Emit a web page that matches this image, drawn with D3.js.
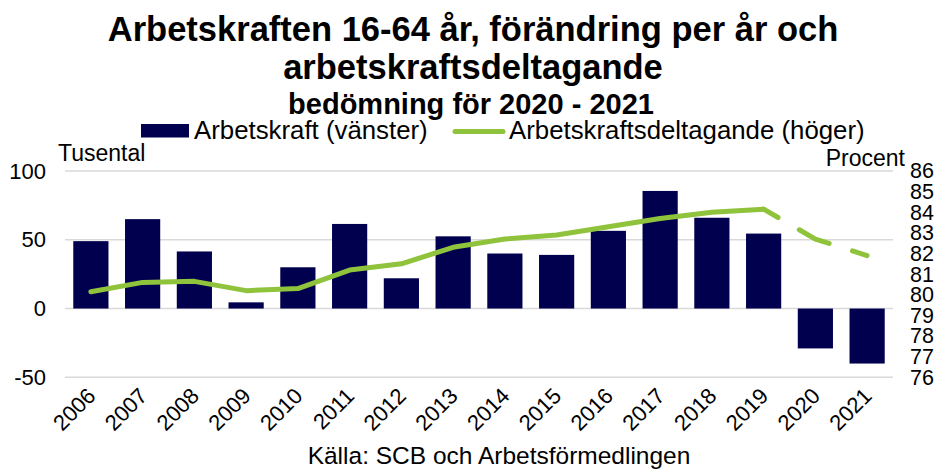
<!DOCTYPE html>
<html>
<head>
<meta charset="utf-8">
<script src="https://cdn.jsdelivr.net/npm/d3@7"></script>
<style>
  html, body { margin: 0; padding: 0; background: #fff; }
  svg { display: block; font-family: "Liberation Sans", Arial, sans-serif; }
</style>
</head>
<body>
<svg id="chart" width="940" height="469"></svg>
<script>
// ---- Data ----
const years = ["2006","2007","2008","2009","2010","2011","2012","2013","2014","2015","2016","2017","2018","2019","2020","2021"];
const laborForce = [49, 65, 41.5, 4.5, 30, 61.5, 22, 52.5, 40, 39, 56.5, 85.5, 66, 54.5, -29, -40];
const participation = [80.15, 80.6, 80.65, 80.2, 80.3, 81.2, 81.5, 82.3, 82.7, 82.9, 83.3, 83.7, 84.0, 84.15, 82.7, 81.9];
const forecastFrom = "2019"; // dashed from this year on
const leftTicks = [-50, 0, 50, 100];
const rightTicks = [76, 77, 78, 79, 80, 81, 82, 83, 84, 85, 86];

const titleLines = ["Arbetskraften 16-64 år, förändring per år och", "arbetskraftsdeltagande"];
const subtitle = "bedömning för 2020 - 2021";
const legendLabels = ["Arbetskraft (vänster)", "Arbetskraftsdeltagande (höger)"];
const leftUnit = "Tusental";
const rightUnit = "Procent";
const source = "Källa: SCB och Arbetsförmedlingen";

const navy = "#00004f";
const green = "#8fc33c";
const gridColor = "#d9d9d9";

// ---- Layout ----
const svg = d3.select("#chart");
const plot = { left: 65, right: 893, top: 171, bottom: 377.3 };

const x = d3.scaleBand().domain(years).range([plot.left, plot.right]).paddingInner(0.32).paddingOuter(0.16);
const yL = d3.scaleLinear().domain([-50, 100]).range([plot.bottom, plot.top]);
const yR = d3.scaleLinear().domain([76, 86]).range([plot.bottom, plot.top]);

// Title
svg.append("text").attr("x", 473).attr("y", 41).attr("text-anchor", "middle")
  .attr("font-size", 34.5).attr("font-weight", "bold").text(titleLines[0]);
svg.append("text").attr("x", 473).attr("y", 79).attr("text-anchor", "middle")
  .attr("font-size", 34.5).attr("font-weight", "bold").text(titleLines[1]);
svg.append("text").attr("x", 471).attr("y", 114).attr("text-anchor", "middle")
  .attr("font-size", 29).attr("font-weight", "bold").text(subtitle);

// Legend
svg.append("rect").attr("x", 141).attr("y", 124).attr("width", 48).attr("height", 13.5).attr("fill", navy);
svg.append("text").attr("x", 194).attr("y", 139).attr("font-size", 25.8).text(legendLabels[0]);
svg.append("line").attr("x1", 455).attr("x2", 503).attr("y1", 131.5).attr("y2", 131.5)
  .attr("stroke", green).attr("stroke-width", 5).attr("stroke-linecap", "round");
svg.append("text").attr("x", 509).attr("y", 139).attr("font-size", 25.8).text(legendLabels[1]);

// Unit labels
svg.append("text").attr("x", 58).attr("y", 161).attr("font-size", 23).text(leftUnit);
svg.append("text").attr("x", 905).attr("y", 166).attr("text-anchor", "end").attr("font-size", 23).text(rightUnit);

// Gridlines
svg.append("g").selectAll("line").data(leftTicks).join("line")
  .attr("x1", plot.left).attr("x2", plot.right)
  .attr("y1", d => yL(d)).attr("y2", d => yL(d))
  .attr("stroke", gridColor).attr("stroke-width", 1.5);

// Left axis
const leftAxis = d3.axisLeft(yL).tickValues(leftTicks).tickSize(0).tickPadding(0).tickFormat(d => String(d));
const gL = svg.append("g").attr("transform", `translate(46,0)`).call(leftAxis);
gL.select(".domain").remove();
gL.selectAll("text").attr("font-size", 22).attr("fill", "#000").attr("font-family", "Liberation Sans, Arial, sans-serif");

// Right axis
const rightAxis = d3.axisRight(yR).tickValues(rightTicks).tickSize(0).tickPadding(0).tickFormat(d => String(d));
const gR = svg.append("g").attr("transform", `translate(910,0)`).call(rightAxis);
gR.select(".domain").remove();
gR.selectAll("text").attr("font-size", 21.5).attr("fill", "#000").attr("font-family", "Liberation Sans, Arial, sans-serif");

// Bars
const data = years.map((yr, i) => ({ year: yr, v: laborForce[i], p: participation[i] }));
svg.append("g").selectAll("rect").data(data).join("rect")
  .attr("x", d => x(d.year))
  .attr("width", x.bandwidth())
  .attr("y", d => yL(Math.max(0, d.v)))
  .attr("height", d => Math.abs(yL(d.v) - yL(0)))
  .attr("fill", navy);

// Line
const cx = d => x(d.year) + x.bandwidth() / 2;
const line = d3.line().x(cx).y(d => yR(d.p));
const fi = years.indexOf(forecastFrom);
svg.append("path").datum(data.slice(0, fi + 1)).attr("d", line)
  .attr("fill", "none").attr("stroke", green).attr("stroke-width", 5)
  .attr("stroke-linejoin", "round").attr("stroke-linecap", "round");
svg.append("path").datum(data.slice(fi)).attr("d", line)
  .attr("fill", "none").attr("stroke", green).attr("stroke-width", 5)
  .attr("stroke-linejoin", "round").attr("stroke-linecap", "round")
  .attr("stroke-dasharray", "33,24.5").attr("stroke-dashoffset", 16.3);

// X axis labels (rotated)
const xAxis = d3.axisBottom(x).tickSize(0).tickPadding(0);
const gX = svg.append("g").attr("transform", `translate(0,${plot.bottom})`).call(xAxis);
gX.select(".domain").remove();
gX.selectAll("text")
  .attr("font-size", 22).attr("fill", "#000").attr("font-family", "Liberation Sans, Arial, sans-serif")
  .attr("text-anchor", "end")
  .attr("dy", null)
  .attr("transform", "translate(6,20) rotate(-45)");

// Source
svg.append("text").attr("x", 499).attr("y", 464).attr("text-anchor", "middle").attr("font-size", 24.5).text(source);
</script>
</body>
</html>
